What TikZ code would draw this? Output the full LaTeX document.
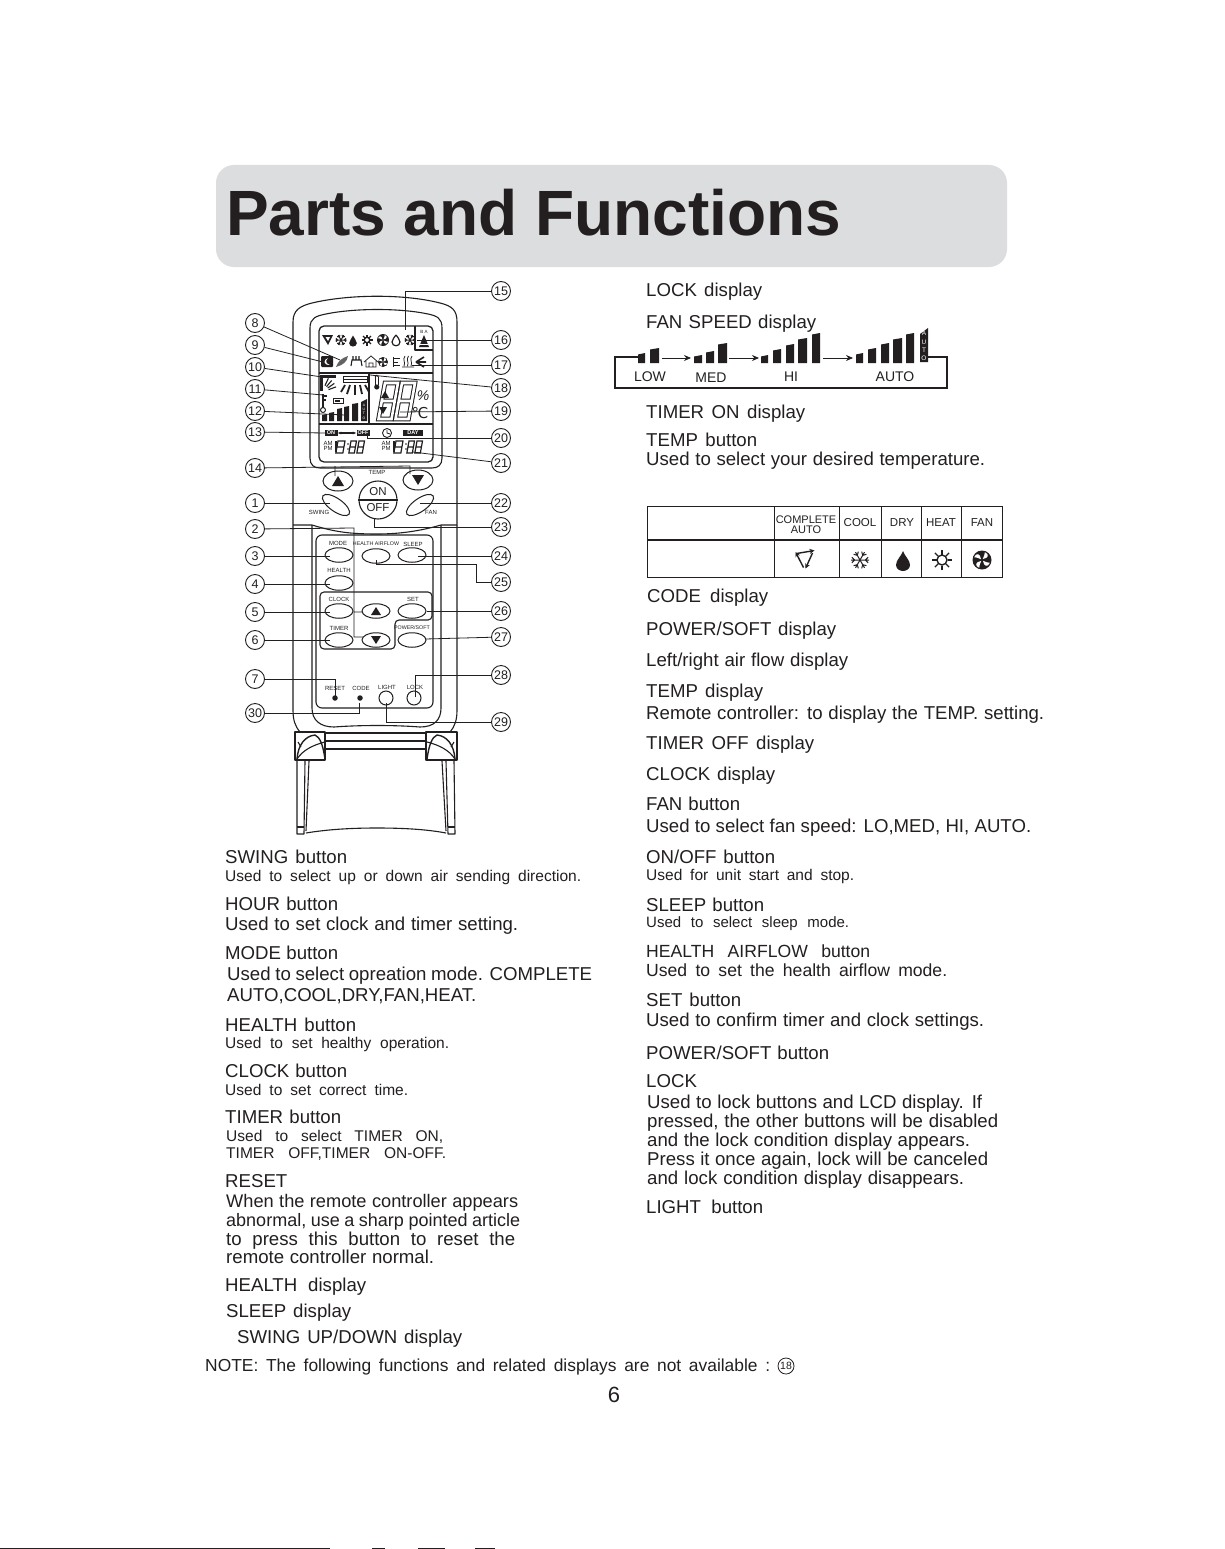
\documentclass[tikz,border=0pt]{standalone}
\usepackage{fontspec}
\setmainfont{Liberation Sans}
\newfontfamily\dvfont{DejaVu Sans}
\usetikzlibrary{arrows.meta,shapes.geometric}
\definecolor{ink}{HTML}{231F20}
\definecolor{band}{HTML}{DCDDDE}
\newcommand{\fs}[1]{\fontsize{#1}{#1}\selectfont}
\newcommand{\T}[6]{\node[txt,font=\fs{\fpeval{#5*1.035}}] (#1) at (#2,#3) {\makebox[\dimexpr #4pt-#2pt\relax][s]{#6}};}
\newcommand{\segs}[5]{\begin{scope}[shift={(#1,#2)},xslant=.18]
 \draw[#5] (0,0) rectangle (#3,#4*0.5) (0,#4*0.5) rectangle (#3,#4);
\end{scope}}
\tikzset{
 txt/.style={anchor=mid west,inner sep=0pt,text=ink,yshift=-3pt},
 lab/.style={inner sep=0pt,text=ink,font=\fs{6}},
 numc/.style={circle,draw=ink,line width=.9pt,inner sep=0pt,minimum size=19pt,font=\fs{12.5},text=ink},
 conn/.style={draw=ink,line width=.8pt},
 body/.style={draw=ink,line width=1.1pt,line join=round},
 btn/.style={ellipse,draw=ink,fill=white,line width=1pt,inner sep=0pt,minimum width=28pt,minimum height=14.5pt},
 rbtn/.style={circle,draw=ink,fill=white,line width=1pt,inner sep=0pt,minimum size=14pt},
 dotb/.style={circle,fill=ink,inner sep=0pt,minimum size=5.5pt},
 tablab/.style={inner sep=0pt,text=ink,font=\fs{11.5},align=center},
 wlab/.style={inner sep=0pt,text=white,font=\bfseries\fs{5.5}},
 bigseg/.style={draw=ink,line width=1pt,double=white,double distance=2.6pt},
 smallseg/.style={draw=ink,line width=1.2pt},
 pics/snow/.style={code={\foreach \a in {0,60,120}{\draw[ink,line width=1pt,rotate=\a] (-1,0)--(1,0) (.6,0)--(.9,.3) (.6,0)--(.9,-.3) (-.6,0)--(-.9,.3) (-.6,0)--(-.9,-.3);}}},
 pics/sun/.style={code={\draw[ink,line width=1.4pt] (0,0) circle (.5);\foreach \a in {0,45,...,315}{\draw[ink,line width=1.3pt,rotate=\a] (.55,0)--(1,0);}}},
 pics/drop/.style={code={\fill[ink] (0,-1) .. controls (.15,-.5) and (.7,-.1) .. (.7,.4) .. controls (.7,.8) and (.3,1) .. (0,1) .. controls (-.3,1) and (-.7,.8) .. (-.7,.4) .. controls (-.7,-.1) and (-.15,-.5) .. (0,-1);}},
 pics/fanic/.style={code={\fill[ink] (0,0) circle (1);\foreach \a in {0,90,180,270}{\fill[white,rotate=\a] (.1,.08) .. controls (.2,.7) and (.6,.8) .. (.82,.3) .. controls (.6,.3) and (.4,.2) .. (.1,.08);}}},
 pics/cycle/.style={code={\draw[ink,line width=1.4pt,-{Stealth[length=5pt,width=5pt]}] (-.85,-.55)--(.95,-.85);\draw[ink,line width=1.4pt,-{Stealth[length=5pt,width=5pt]}] (.75,-.6)--(.05,.95);\draw[ink,line width=1.4pt,-{Stealth[length=5pt,width=5pt]}] (-.15,.85)--(-.95,-.7);}}
}
\begin{document}
\begin{tikzpicture}[x=1pt,y=-1pt]
\useasboundingbox (0,0) rectangle (1225,1549);
\fill[white] (0,0) rectangle (1225,1549);
% header
\fill[band,rounded corners=18pt] (216,165) rectangle (1007,267);
\node[anchor=base west,inner sep=0pt,text=ink,font=\bfseries\fs{64}] (title) at (226,235) {Parts and Functions};

% remote body
\draw[body] (300,732) .. controls (295,726) and (293,720) .. (293,710) -- (293,322) .. controls (293,310) and (300,306) .. (312,303) .. controls (350,294) and (405,294) .. (440,303) .. controls (452,306) and (457,310) .. (457,322) -- (457,710) .. controls (457,720) and (455,726) .. (450,732);
\draw[body] (310,328) .. controls (310,318) and (316,316) .. (326,314) .. controls (355,308) and (400,308) .. (428,314) .. controls (437,316) and (442,318) .. (442,328) -- (442,458) .. controls (442,465) and (438,468) .. (432,468) -- (320,468) .. controls (314,468) and (310,465) .. (310,458) -- cycle;
\draw[body,line width=1.3pt,rounded corners=5pt] (319,326) rectangle (433,462);
\draw[body] (319,373) -- (433,373) (319,424) -- (433,424) (369,373) -- (369,424);
\draw[body] (415,326) -- (415,350) -- (433,350);
% lower section
\draw[body] (293,525) -- (312,525) .. controls (335,532) and (350,534) .. (377,534) .. controls (400,534) and (420,531) .. (441,525) -- (457,525);
\draw[body] (312,525) -- (312,708) .. controls (312,720) and (320,727) .. (334,727) .. controls (360,725) and (395,725) .. (420,727) .. controls (434,727) and (441,720) .. (441,708) -- (441,525);
\draw[body,rounded corners=6pt] (316,535) rectangle (433,708);
\draw[body,rounded corners=4pt] (320,592) -- (432,592) -- (432,620) -- (395,620) -- (395,649) -- (320,649) -- cycle;

% clips and legs
\draw[body] (295,732) rectangle (325,760) (426,732) rectangle (457,760);
\draw[body] (326,733) -- (426,733) (326,741) -- (426,741) (326,749) -- (426,749);
\draw[body,line width=1.4pt] (297,759) .. controls (298,745) and (305,736) .. (315,735) .. controls (320,737) and (323,745) .. (325,759);
\draw[body] (297,759) .. controls (303,750) and (313,745) .. (325,742) (298,742) -- (301,747);
\draw[body,line width=1.4pt] (455,759) .. controls (454,745) and (447,736) .. (437,735) .. controls (432,737) and (429,745) .. (427,759);
\draw[body] (455,759) .. controls (449,750) and (439,745) .. (427,742) (454,742) -- (451,747);
\draw[body] (297,761) -- (297,834) -- (304,834) -- (305,761) (309,761) -- (306,831);
\draw[body] (454,761) -- (455,834) -- (448,834) -- (446,761) (442,761) -- (446,831);
\draw[body] (297,827) -- (304,827) (448,827) -- (455,827);
\draw[body] (306,833) .. controls (330,829) and (355,828) .. (377,828) .. controls (400,828) and (425,829) .. (446,833);

% connector ends
\foreach \n/\x/\y in {15/405/330,16/417/340,17/412/365,18/370/375,19/400/412,20/367/434,21/413/452,22/420/503,23/374/518,24/418/556,26/427/611,27/425/639,28/415/697,29/386/703,8/340/360,9/323/362,10/322/377,11/323/395,12/345/415,13/325/433,1/330/503,3/330/556,4/330/584,5/330/612,6/330/640,7/335/697,30/359/703}
 \coordinate (e\n) at (\x,\y);
\coordinate (k14a) at (335,466); \coordinate (k14b) at (410,466);
\coordinate (e14a) at (335,476); \coordinate (e14b) at (410,474);
\coordinate (k2) at (354,528); \coordinate (k2b) at (354,612); \coordinate (k2c) at (354,637);
\coordinate (e2b) at (363,612); \coordinate (e2c) at (363,637);
\coordinate (k25a) at (476,582); \coordinate (k25b) at (476,564); \coordinate (k25c) at (376,564); \coordinate (e25) at (376,560);

% number circles
\foreach \n/\x/\y in {15/501/291,16/501/340,17/501/365,18/501/388,19/501/411,20/501/438,21/501/463,22/501/503,23/501/527,24/501/556,25/501/582,26/501/611,27/501/637,28/501/675,29/501/722,8/255/323,9/255/345,10/255/367,11/255/389,12/255/411,13/255/432,14/255/468,1/255/503,2/255/529,3/255/556,4/255/584,5/255/612,6/255/640,7/255/679,30/255/713}
 \node[numc] (n\n) at (\x,\y) {\n};

% buttons
\node[btn,minimum width=30pt,minimum height=20pt] (bup) at (338,481) {};
\node[btn,minimum width=30pt,minimum height=20pt] (bdn) at (418,480) {};
\fill[ink] (332,486) -- (344,486) -- (338,476) -- cycle;
\fill[ink] (412,475) -- (424,475) -- (418,485) -- cycle;
\node[btn,rotate=-35,minimum width=32pt,minimum height=13pt] (bswing) at (336,505) {};
\node[btn,rotate=35,minimum width=32pt,minimum height=13pt] (bfan) at (420,505) {};
\node[circle,draw=ink,fill=white,line width=1.1pt,inner sep=0pt,minimum size=38pt] (bon) at (378,500) {};
\draw[body] (bon.west) -- (bon.east);
\node[inner sep=0pt,text=ink,font=\fs{11.5}] (ton) at (378,492) {ON};
\node[inner sep=0pt,text=ink,font=\fs{11.5}] (toff) at (378,508) {OFF};
\foreach \nm/\x/\y in {mode/339/555,air/376/556,sleep/412/555,health/339/583,clock/339/611,up/376/611,set/412/611,timer/339/640,down/376/640,power/412/640}
 \node[btn] (b\nm) at (\x,\y) {};
\fill[ink] (371,615) -- (381,615) -- (376,607) -- cycle;
\fill[ink] (371,636) -- (381,636) -- (376,644) -- cycle;
\node[rbtn] (blight) at (386,698) {};
\node[rbtn] (block) at (414,698) {};
\node[dotb] (dreset) at (335,698) {};
\node[dotb] (dcode) at (360,698) {};
% labels on remote
\node[lab] (lmode) at (338,543) {MODE};
\node[lab,font=\fs{5.3}] (lair) at (376,544) {HEALTH AIRFLOW};
\node[lab] (lsleep) at (413,544) {SLEEP};
\node[lab] (lhealth) at (339,570) {HEALTH};
\node[lab] (lclock) at (339,599) {CLOCK};
\node[lab] (lset) at (413,599) {SET};
\node[lab] (ltimer) at (339,628) {TIMER};
\node[lab,font=\fs{5.3}] (lpower) at (412,628) {POWER/SOFT};
\node[lab] (lreset) at (335,688) {RESET};
\node[lab] (lcode) at (361,688) {CODE};
\node[lab] (llight) at (387,687) {LIGHT};
\node[lab] (llock) at (415,687) {LOCK};
\node[lab] (ltemp) at (377,472) {TEMP};
\node[lab] (lswing) at (319,512) {SWING};
\node[lab] (lfan) at (431,512) {FAN};

% LCD top row
\fill[ink] (322,335) -- (333,335) -- (328,345) -- cycle;
\fill[white] (325.5,337) -- (330,337) -- (328,341) -- cycle;
\pic[scale=5.5] (i2) at (341,340) {snow};
\pic[scale=5.5] (i3) at (353,341) {drop};
\pic[scale=5.5] (i4) at (367,340) {sun};
\pic[scale=6] (i5) at (383,340) {fanic};
\draw[ink,line width=1.2pt] (396,335) .. controls (397,337) and (400,339) .. (400,342) .. controls (400,347) and (392,347) .. (392,342) .. controls (392,339) and (395,337) .. (396,335);
\pic[scale=5.5] (i7) at (410,340) {snow};
\node[inner sep=0pt,text=ink,font=\fs{4.5}] (tba) at (424,332) {B A};
\fill[ink] (424,335) -- (429,347) -- (419,347) -- cycle;
\draw[white,line width=.8pt] (421,340) -- (427,340) (420,344) -- (428,344);
% LCD second row
\fill[ink,rounded corners=1pt] (321,356) rectangle (333,367);
\fill[white] (328,358) .. controls (323,360) and (323,365) .. (330,365) .. controls (326,364) and (325,361) .. (328,358);
\fill[ink!70] (336,367) .. controls (338,361) and (342,358) .. (348,356) .. controls (347,362) and (343,365) .. (336,367);
\draw[ink,line width=1.1pt] (351,366) -- (352,360) -- (361,360) -- (362,366) (353,360) -- (353,356) (356,360) -- (356,356) (359,360) -- (359,356);
\draw[ink,line width=.8pt] (364,362) -- (371,356) -- (378,362) (366,361) -- (366,367) -- (376,367) -- (376,361) (369,367) rectangle (373,363);
\pic[scale=5] (i8) at (383,362) {fanic};
\draw[ink,line width=1pt] (393,357) -- (393,367) (393,358.5) -- (400,358.5) (393,362) -- (398,362) (393,365.5) -- (400,365.5);
\draw[ink,line width=.8pt] (404,366) .. controls (406,362) and (402,360) .. (405,356) (407.5,366) .. controls (409.5,362) and (405.5,360) .. (408.5,356) (411,366) .. controls (413,362) and (409,360) .. (412,356) (402,367) -- (414,367);
\draw[ink,line width=1.6pt] (416,362) -- (424,357) (416,362) -- (424,367) (416,362) -- (426,362);
% LCD middle left
\fill[ink] (320,375) rectangle (323,391);
\fill[ink] (320,375) rectangle (336,378);
\foreach \a in {-20,-35,-50,-65}{\draw[ink,line width=1.1pt] ([shift={(\a:7)}]322,392) -- ([shift={(\a:15)}]322,392);}
\draw[ink,line width=.9pt] (343,376) rectangle (367,382);
\draw[ink,line width=1pt] (343,379) -- (367,379);
\foreach \a/\b/\c/\d in {345/385/341/392,350/385/347/394,355/385/355/395,360/385/362/394,365/385/369/392}{\draw[ink,line width=1.8pt] (\a,\b) -- (\c,\d);}
\draw[ink,line width=1.5pt] (323,394) -- (323,408) (323,396) -- (327,396) (323,400) -- (326,400);
\draw[ink,line width=1pt] (323,410) circle (2.5);
\draw[ink,line width=1pt] (333,398) rectangle (343,403);
\fill[ink] (335,399.5) rectangle (340,401.5);
\foreach \a/\b/\t in {322/327/414,329/334/412,337/342/408,344/349/406,352/358/403}{\fill[ink] (\a,\t+1) -- (\b,\t) -- (\b,421) -- (\a,421) -- cycle;}
\fill[ink] (361,402) -- (367,399) -- (367,421) -- (361,421) -- cycle;
\foreach \l/\y in {A/405,U/409,T/413,O/418}{\node[wlab,font=\fs{3.5}] (la\l) at (364,\y) {\l};}
% thermometer
\draw[ink,line width=.8pt] (375,377) -- (375,385) (378.5,377) -- (378.5,385);
\draw[ink,line width=.8pt] (375,377) arc (180:360:1.75);
\fill[ink] (376.75,387) circle (2.6);
% big digits
\segs{385}{383}{13}{36}{bigseg}
\segs{402}{383}{13}{36}{bigseg}
\fill[ink] (381,398) -- (389,398) -- (385,391) -- cycle;
\fill[ink] (379,407) -- (387,407) -- (383,414) -- cycle;
\node[inner sep=0pt,text=ink,font=\itshape\fs{14}] (tpc) at (423,396) {\%};
\node[inner sep=0pt,text=ink,font=\dvfont\fs{15}] (tdc) at (420,413) {℃};
% LCD timer row
\node[fill=ink,wlab,minimum width=13pt,minimum height=6pt] (tonb) at (331,433) {ON};
\node[fill=ink,wlab,minimum width=13pt,minimum height=6pt] (toffb) at (363,433) {OFF};
\draw[draw=ink,line width=1.1pt,{Stealth[length=3.5pt]}-{Stealth[length=3.5pt]}] (tonb) -- (toffb);
\draw[ink,line width=.9pt] (387,433) circle (4.5);
\draw[ink,line width=.9pt] (387,430) -- (387,433) -- (390,434);
\node[fill=ink,wlab,minimum width=20pt,minimum height=6pt] (tdayb) at (413,433) {DAY};
\node[inner sep=0pt,text=ink,font=\fs{6},align=center] (tam1) at (328,446) {AM\\[-.5pt]PM};
\node[inner sep=0pt,text=ink,font=\fs{6},align=center] (tam2) at (386,446) {AM\\[-.5pt]PM};
\draw[ink,line width=1.3pt] (336,441) -- (336,452) (394,441) -- (394,452);
\segs{338}{441}{7}{12}{smallseg}
\segs{351}{441}{5.5}{12}{smallseg}
\segs{359}{441}{5.5}{12}{smallseg}
\segs{396}{441}{7}{12}{smallseg}
\segs{409}{441}{5.5}{12}{smallseg}
\segs{417}{441}{5.5}{12}{smallseg}
\fill[ink] (348,444) circle (.8) (348,449) circle (.8) (406,444) circle (.8) (406,449) circle (.8);

% connectors
\foreach \n in {16,17,18,19,21,22,24,26,27,8,9,10,11,12,13,1,3,4,5,6}
 \draw[conn] (n\n) -- (e\n);
\foreach \n in {15,20,23,28,29,7,30}
 \draw[conn] (n\n) -| (e\n);
\draw[conn] (n14) -- (k14b) -- (e14b) (k14a) -- (e14a);
\draw[conn] (n2) -- (k2) -- (k2c) -- (e2c) (k2b) -- (e2b);
\draw[conn] (n25) -- (k25a) -- (k25b) -- (k25c) -- (e25);

% fan speed strip
\coordinate (fa) at (638,357); \coordinate (fb) at (615,357); \coordinate (fc) at (615,388); \coordinate (fd) at (947,388); \coordinate (fe) at (947,357); \coordinate (ff) at (928,357);
\draw[conn,line width=1.3pt] (fa) -- (fb) -- (fc) -- (fd) -- (fe) -- (ff);
\foreach \a/\b/\t in {638/645/353,650/659/348,694/702/355,706/714/351,718/727/343,761/768/355,773/781/349,786/794/344,798/807/338,812/820/333,856/863/353,868/876/348,881/889/343,893/902/338,906/914/333}
 {\fill[ink] (\a,\t+1.5) -- (\b,\t) -- (\b,363) -- (\a,363) -- cycle;}
\fill[ink] (920,334) -- (928,328) -- (928,362) -- (920,362) -- cycle;
\foreach \l/\y in {A/333,U/342,T/350,O/358}{\node[inner sep=0pt,text=white,font=\fs{6.5}] (fs\l) at (924,\y) {\l};}
\coordinate (ar1a) at (662,358); \coordinate (ar1b) at (691,358);
\coordinate (ar2a) at (729,358); \coordinate (ar2b) at (759,358);
\coordinate (ar3a) at (823,358); \coordinate (ar3b) at (853,358);
\foreach \n in {1,2,3}{\draw[conn,-{Stealth[length=7pt,width=6pt]}] (ar\n a) -- (ar\n b);}
\node[inner sep=0pt,text=ink,font=\fs{14}] (fslow) at (650,377) {LOW};
\node[inner sep=0pt,text=ink,font=\fs{14}] (fsmed) at (711,378) {MED};
\node[inner sep=0pt,text=ink,font=\fs{14}] (fshi) at (791,377) {HI};
\node[inner sep=0pt,text=ink,font=\fs{14}] (fsauto) at (895,377) {AUTO};

% mode table
\draw[ink,line width=.9pt] (647,506) rectangle (1002,577);
\draw[ink,line width=1.7pt] (647,540) -- (1002,540);
\foreach \x in {774,839,881,921,961}{\draw[ink,line width=.9pt] (\x,506) -- (\x,577);}
\node[tablab,font=\fs{11}] (tcomp) at (806,524.5) {COMPLETE\\[-1pt]AUTO};
\node[tablab] (tcool) at (860,523) {COOL};
\node[tablab] (tdry) at (902,523) {DRY};
\node[tablab] (theat) at (941,523) {HEAT};
\node[tablab] (tfan) at (982,523) {FAN};
\pic[scale=10] (tic1) at (805,559) {cycle};
\pic[scale=9] (tic2) at (860,560) {snow};
\pic[scale=10] (tic3) at (903,561) {drop};
\pic[scale=10] (tic4) at (942,560) {sun};
\pic[scale=9.5] (tic5) at (982,560) {fanic};

% left column text
\T{a1}{225}{858}{347}{18}{SWING button}
\T{a2}{225}{876}{581}{15}{Used to select up or down air sending direction.}
\T{a3}{225}{905}{338}{18}{HOUR button}
\T{a4}{225}{925}{518}{18}{Used to set clock and timer setting.}
\T{a5}{225}{954}{338}{18}{MODE button}
\T{a6}{227}{975}{592}{18}{Used to select opreation mode. COMPLETE}
\T{a7}{227}{996}{479}{18}{AUTO,COOL,DRY,FAN,HEAT.}
\T{a8}{225}{1026}{356}{18}{HEALTH button}
\T{a9}{225}{1043}{449}{15}{Used to set healthy operation.}
\T{a10}{225}{1072}{347}{18}{CLOCK button}
\T{a11}{225}{1090}{408}{15}{Used to set correct time.}
\T{a12}{225}{1118}{341}{18}{TIMER button}
\T{a13}{226}{1136}{443}{15}{Used to select TIMER ON,}
\T{a14}{226}{1153}{446}{15}{TIMER OFF,TIMER ON-OFF.}
\T{a15}{225}{1182}{287}{18}{RESET}
\T{a16}{226}{1202}{518}{17.6}{When the remote controller appears}
\T{a17}{226}{1221}{520}{17.4}{abnormal, use a sharp pointed article}
\T{a18}{226}{1240}{515}{18}{to press this button to reset the}
\T{a19}{226}{1258}{434}{18}{remote controller normal.}
\T{a20}{225}{1286}{366}{18}{HEALTH display}
\T{a21}{226}{1312}{351}{18}{SLEEP display}
\T{a22}{237}{1338}{462}{18}{SWING UP/DOWN display}
\T{a23}{205}{1366}{770}{16.8}{NOTE: The following functions and related displays are not available :}
\node[circle,draw=ink,line width=.8pt,inner sep=0pt,minimum size=16pt,font=\fs{10.5},text=ink] (note18) at (786,1366) {18};
\node[inner sep=0pt,text=ink,font=\fs{22}] (page) at (614,1395) {6};

% right column text
\T{b1}{646}{291}{762}{18}{LOCK display}
\T{b2}{646}{323}{816}{18}{FAN SPEED display}
\T{b3}{646}{413}{805}{18}{TIMER ON display}
\T{b4}{646}{441}{757}{18}{TEMP button}
\T{b5}{646}{460}{985}{18}{Used to select your desired temperature.}
\T{b6}{647}{597}{768}{18}{CODE display}
\T{b7}{646}{630}{836}{18}{POWER/SOFT display}
\T{b8}{646}{661}{848}{18}{Left/right air flow display}
\T{b9}{646}{692}{763}{18}{TEMP display}
\T{b10}{646}{714}{1044}{18}{Remote controller: to display the TEMP. setting.}
\T{b11}{646}{744}{814}{18}{TIMER OFF display}
\T{b12}{646}{775}{775}{18}{CLOCK display}
\T{b13}{646}{805}{740}{18}{FAN button}
\T{b14}{646}{827}{1031}{18}{Used to select fan speed: LO,MED, HI, AUTO.}
\T{b15}{646}{858}{775}{18}{ON/OFF button}
\T{b16}{646}{875}{854}{15}{Used for unit start and stop.}
\T{b17}{646}{906}{764}{18}{SLEEP button}
\T{b18}{646}{922}{849}{14.5}{Used to select sleep mode.}
\T{b19}{646}{952}{870}{17}{HEALTH AIRFLOW button}
\T{b20}{646}{971}{947}{17}{Used to set the health airflow mode.}
\T{b21}{646}{1001}{741}{18}{SET button}
\T{b22}{646}{1021}{984}{18}{Used to confirm timer and clock settings.}
\T{b23}{646}{1054}{829}{18}{POWER/SOFT button}
\T{b24}{646}{1082}{698}{18}{LOCK}
\T{b25}{647}{1103}{982}{18}{Used to lock buttons and LCD display. If}
\T{b26}{647}{1122}{998}{18}{pressed, the other buttons will be disabled}
\T{b27}{647}{1141}{970}{18}{and the lock condition display appears.}
\T{b28}{647}{1160}{988}{18}{Press it once again, lock will be canceled}
\T{b29}{647}{1179}{964}{18}{and lock condition display disappears.}
\T{b30}{646}{1208}{763}{18}{LIGHT button}

% scan edge
\draw[ink,line width=.8pt] (0,1548) -- (330,1548) (372,1548) -- (385,1548) (418,1548) -- (445,1548) (475,1548) -- (495,1548);
\end{tikzpicture}
\end{document}
